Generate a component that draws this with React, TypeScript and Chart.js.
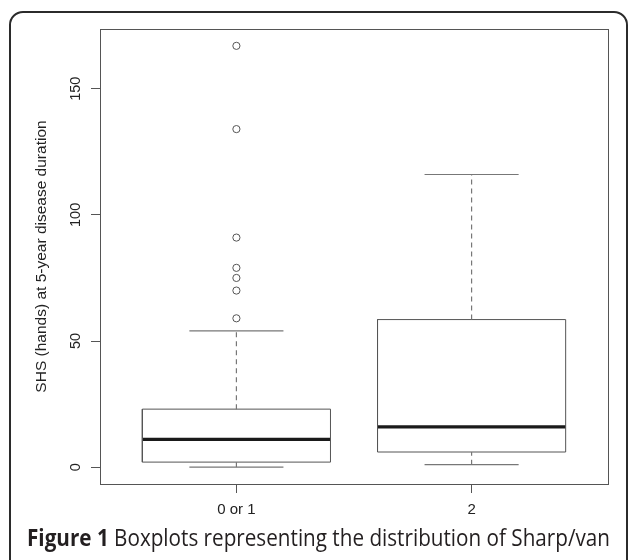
import React, { useEffect, useLayoutEffect, useRef } from "react";
import { Chart, registerables } from "chart.js";

Chart.register(...registerables);

// ---- data ----
const categories = ["0 or 1", "2"];
const positions = [1, 2];
const lowerWhisker = [0, 1];
const q1 = [2, 6];
const median = [11, 16];
const q3 = [23, 58.5];
const upperWhisker = [54, 116];
const outliersGroup0 = [59, 70, 75, 79, 91, 134, 167];
const outliersGroup1: number[] = [];
const yTicks = [0, 50, 100, 150];
const yTitle = "SHS (hands) at 5-year disease duration";
const captionBold = "Figure 1";
const captionRest = " Boxplots representing the distribution of Sharp/van";

// ---- styles ----
const BOX_HALF = 0.4;
const CAP_HALF = 0.2;
const BOX_COLOR = "#555555";
const WHISKER_COLOR = "#777777";
const TEXT_COLOR = "#222222";
const FONT = "'Liberation Sans', Arial, sans-serif";

function seg(x1: number, y1: number, x2: number, y2: number) {
  return [
    { x: x1, y: y1 },
    { x: x2, y: y2 },
  ];
}

function lineDs(data: { x: number; y: number }[], color: string, width: number, dash: number[] = []) {
  return {
    type: "line" as const,
    data,
    borderColor: color,
    borderWidth: width,
    borderDash: dash,
    pointRadius: 0,
    pointHoverRadius: 0,
    fill: false,
    tension: 0,
    showLine: true,
    borderCapStyle: "butt" as const,
  };
}

function buildDatasets() {
  const ds: any[] = [];
  const outlierLists = [outliersGroup0, outliersGroup1];
  positions.forEach((p, i) => {
    ds.push(lineDs(seg(p, q3[i], p, upperWhisker[i]), WHISKER_COLOR, 1.2, [5, 4]));
    ds.push(lineDs(seg(p, lowerWhisker[i], p, q1[i]), WHISKER_COLOR, 1.2, [5, 4]));
    ds.push(lineDs(seg(p - CAP_HALF, upperWhisker[i], p + CAP_HALF, upperWhisker[i]), WHISKER_COLOR, 1.2));
    ds.push(lineDs(seg(p - CAP_HALF, lowerWhisker[i], p + CAP_HALF, lowerWhisker[i]), WHISKER_COLOR, 1.2));
    ds.push(
      lineDs(
        [
          { x: p - BOX_HALF, y: q1[i] },
          { x: p + BOX_HALF, y: q1[i] },
          { x: p + BOX_HALF, y: q3[i] },
          { x: p - BOX_HALF, y: q3[i] },
          { x: p - BOX_HALF, y: q1[i] },
        ],
        BOX_COLOR,
        1
      )
    );
    ds.push(lineDs(seg(p - BOX_HALF, median[i], p + BOX_HALF, median[i]), "#1a1a1a", 3.2));
    if (outlierLists[i].length) {
      ds.push({
        type: "scatter" as const,
        data: outlierLists[i].map((v) => ({ x: p, y: v })),
        pointStyle: "circle",
        pointRadius: 3.6,
        pointHoverRadius: 3.6,
        borderColor: BOX_COLOR,
        borderWidth: 1,
        backgroundColor: "rgba(0,0,0,0)",
        showLine: false,
      });
    }
  });
  return ds;
}

const framePlugin = {
  id: "frame",
  beforeDatasetsDraw(chart: any) {
    const { ctx, chartArea } = chart;
    ctx.save();
    ctx.strokeStyle = BOX_COLOR;
    ctx.lineWidth = 1;
    ctx.strokeRect(
      Math.round(chartArea.left) + 0.5,
      Math.round(chartArea.top) + 0.5,
      Math.round(chartArea.right - chartArea.left),
      Math.round(chartArea.bottom - chartArea.top)
    );
    ctx.restore();
  },
};

const yMinVal = 0 - 0.04 * 167;
const yMaxVal = 167 + 0.04 * 167;

export default function App() {
  const canvasRef = useRef<HTMLCanvasElement | null>(null);
  const capRef = useRef<HTMLDivElement | null>(null);

  useLayoutEffect(() => {
    const el = capRef.current;
    if (!el) return;
    el.style.transform = "none";
    const w = el.getBoundingClientRect().width;
    const target = 583;
    if (w > 0) el.style.transform = `scaleX(${target / w})`;
  }, []);

  useEffect(() => {
    if (!canvasRef.current) return;
    const chart = new Chart(canvasRef.current, {
      type: "line",
      data: { datasets: buildDatasets() },
      plugins: [framePlugin],
      options: {
        animation: false,
        responsive: false,
        devicePixelRatio: 1,
        layout: { padding: { left: 0, top: 29, right: 20, bottom: 36 } },
        plugins: { legend: { display: false }, tooltip: { enabled: false } },
        scales: {
          x: {
            type: "linear",
            min: 0.42,
            max: 2.58,
            afterBuildTicks: (s: any) => {
              s.ticks = positions.map((v) => ({ value: v }));
            },
            afterFit: (s: any) => {
              s.height = 40;
            },
            border: { display: false },
            grid: {
              drawOnChartArea: false,
              drawTicks: true,
              tickLength: 9,
              tickColor: BOX_COLOR,
              color: BOX_COLOR,
            },
            ticks: {
              autoSkip: false,
              maxRotation: 0,
              minRotation: 0,
              padding: 8,
              color: TEXT_COLOR,
              font: { family: FONT, size: 15 },
              callback: (v: any) => {
                const idx = positions.indexOf(Number(v));
                return idx >= 0 ? categories[idx] : "";
              },
            },
          },
          y: {
            type: "linear",
            min: yMinVal,
            max: yMaxVal,
            afterBuildTicks: (s: any) => {
              s.ticks = yTicks.map((v) => ({ value: v }));
            },
            afterFit: (s: any) => {
              s.width = 100;
            },
            border: { display: false },
            grid: {
              drawOnChartArea: false,
              drawTicks: true,
              tickLength: 9,
              tickColor: BOX_COLOR,
              color: BOX_COLOR,
            },
            ticks: {
              autoSkip: false,
              minRotation: 90,
              maxRotation: 90,
              crossAlign: "center",
              padding: 3,
              color: TEXT_COLOR,
              font: { family: FONT, size: 14.5 },
              callback: (v: any) => String(v),
            },
            title: {
              display: true,
              text: yTitle,
              color: TEXT_COLOR,
              font: { family: FONT, size: 15.5 },
              padding: { top: 32, bottom: 0 },
            },
          },
        },
      } as any,
    });
    return () => chart.destroy();
  }, []);

  return (
    <div
      style={{
        position: "fixed",
        left: 0,
        top: 0,
        width: 628,
        height: 560,
        overflow: "hidden",
        background: "#ffffff",
      }}
    >
      <div
        style={{
          position: "absolute",
          left: 9,
          top: 11,
          width: 619,
          height: 640,
          border: "2px solid #2b2b2b",
          borderRadius: 14,
          boxSizing: "border-box",
        }}
      />
      <canvas
        ref={canvasRef}
        width={628}
        height={560}
        style={{ position: "absolute", left: 0, top: 0, width: 628, height: 560 }}
      />
      <div
        ref={capRef}
        style={{
          position: "absolute",
          left: 27,
          top: 525,
          whiteSpace: "nowrap",
          fontFamily: "'Open Sans', 'Noto Sans', sans-serif",
          fontSize: 24,
          lineHeight: "24px",
          color: "#231f20",
          transformOrigin: "0 0",
        }}
      >
        <span style={{ fontWeight: 700 }}>{captionBold}</span>
        <span>{captionRest}</span>
      </div>
    </div>
  );
}
